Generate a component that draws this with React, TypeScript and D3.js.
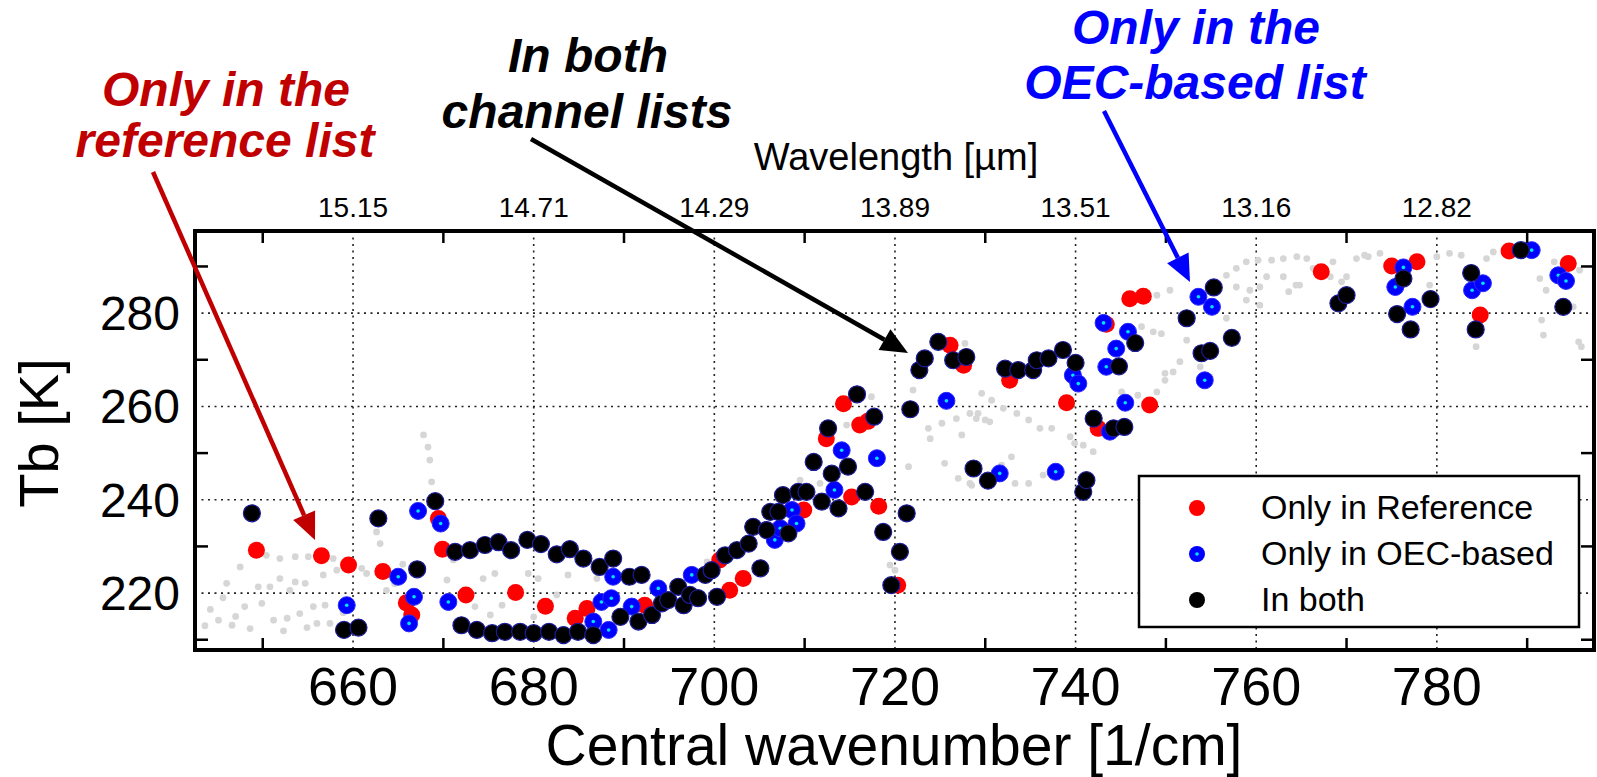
import * as d3 from "d3";

// [central wavenumber (1/cm), Tb (K)]
const refOnly: [number, number][] = [
  [649.3, 229.2], [656.5, 228.0], [659.5, 226.0], [663.3, 224.6], [665.9, 217.9], [666.5, 215.3],
  [669.45, 236.0], [669.9, 229.4], [672.5, 219.6], [678.0, 220.1], [681.3, 217.2], [684.6, 214.6],
  [685.9, 216.7], [692.3, 217.4], [700.6, 227.1], [701.7, 220.6], [703.2, 223.1], [709.9, 237.8],
  [712.4, 253.1], [714.3, 260.6], [715.2, 240.6], [716.1, 256.0], [717.0, 256.8], [718.2, 238.6],
  [720.3, 221.7], [726.1, 273.1], [727.6, 268.85], [732.7, 265.6], [739.0, 260.8], [742.5, 255.3],
  [743.4, 277.6], [746.0, 283.1], [747.5, 283.6], [748.2, 260.3], [767.2, 288.85], [775.0, 290.1],
  [777.8, 291.0], [784.8, 279.6], [788.0, 293.3], [794.55, 290.65],
];

const oecOnly: [number, number][] = [
  [659.3, 217.4], [665.0, 223.5], [666.2, 213.5], [666.75, 219.2], [667.2, 237.6], [669.7, 234.9],
  [670.55, 218.1], [686.6, 213.9], [687.5, 218.1], [688.3, 212.1], [688.6, 218.9], [688.8, 223.5],
  [690.85, 217.1], [693.8, 221.0], [697.5, 223.9], [706.7, 231.4], [707.3, 233.9], [708.6, 237.8],
  [709.1, 234.9], [713.3, 242.1], [714.1, 250.6], [718.0, 248.9], [725.7, 261.2], [731.6, 245.65],
  [737.8, 246.0], [739.7, 266.7], [740.3, 264.9], [743.1, 277.9], [743.4, 268.5], [743.8, 254.6],
  [744.5, 272.4], [745.5, 260.8], [745.8, 276.0], [753.6, 283.5], [754.3, 265.6], [755.1, 281.35],
  [775.4, 285.6], [776.3, 289.8], [777.3, 281.35], [783.9, 284.9], [785.1, 286.4], [790.5, 293.5],
  [793.45, 288.1], [794.3, 286.9],
];

const inBoth: [number, number][] = [
  [648.8, 237.1], [659.0, 212.1], [660.6, 212.6], [662.8, 236.0], [667.1, 225.1], [669.1, 239.7],
  [671.3, 228.85], [672.95, 229.2], [674.6, 230.3], [676.1, 230.9], [677.5, 229.2], [679.3, 231.4],
  [680.8, 230.5], [682.55, 228.3], [684.0, 229.4], [685.5, 227.4], [687.3, 225.6], [688.8, 227.4],
  [690.6, 223.5], [691.95, 223.9],
  [672.0, 213.1], [673.7, 212.1], [675.4, 211.4], [676.8, 211.7], [678.5, 211.7], [680.0, 211.4],
  [681.7, 211.7], [683.3, 211.0], [684.9, 211.7], [686.6, 211.0],
  [689.6, 214.9], [691.6, 213.9], [693.1, 215.3], [694.2, 217.8], [694.9, 218.5], [696.0, 221.35],
  [696.6, 217.4], [697.3, 219.6], [698.2, 218.9], [699.0, 223.9], [699.7, 224.9], [700.3, 219.2],
  [701.2, 228.1], [702.5, 229.2], [703.8, 230.6], [704.3, 234.2], [705.1, 225.3], [705.8, 233.5],
  [706.2, 237.4], [707.1, 237.4], [707.6, 241.0], [708.2, 232.8], [709.3, 241.7], [710.2, 241.7],
  [711.0, 248.1], [711.9, 239.6], [712.6, 255.3], [713.0, 245.6], [713.75, 238.15], [714.8, 247.1],
  [715.8, 262.6], [716.7, 241.7], [717.7, 257.8], [718.7, 233.1], [719.6, 221.7], [720.55, 228.85],
  [721.3, 237.1], [721.7, 259.4], [722.7, 267.8], [723.3, 270.3], [724.8, 273.85], [726.45, 269.9],
  [727.9, 270.6], [728.7, 246.7], [730.3, 244.1], [732.2, 268.1], [733.65, 267.8], [735.3, 267.8],
  [735.7, 269.9], [737.0, 270.3], [738.6, 272.1], [740.0, 269.35], [740.85, 241.7], [741.2, 244.2],
  [742.0, 257.4], [744.2, 255.3], [744.8, 268.6], [745.4, 255.6], [746.6, 273.6], [752.3, 278.9],
  [753.95, 271.4], [754.9, 271.9], [755.3, 285.5], [757.3, 274.7], [769.1, 282.1], [770.0, 283.85],
  [775.6, 279.8], [776.3, 287.4], [777.1, 276.5], [779.3, 283.0], [783.8, 288.6], [784.3, 276.5],
  [789.3, 293.5], [794.0, 281.35],
];

// all channels (light grey background)
const allChannels: [number, number][] = [
  [645.1, 214.2], [646.6, 213.1], [647.5, 225.6], [648.0, 217.1], [646.0, 222.1], [649.5, 221.35],
  [649.9, 217.8], [650.8, 221.35], [651.2, 214.2], [651.9, 223.1], [652.7, 214.6], [653.0, 220.6],
  [653.6, 222.4], [654.1, 215.6], [654.7, 222.1], [655.6, 217.1], [656.0, 213.5], [656.7, 223.9],
  [656.9, 217.4], [657.45, 213.5], [658.2, 224.9], [650.4, 228.1], [651.9, 227.4], [653.6, 227.8],
  [655.05, 227.8], [657.8, 227.4], [644.2, 216.5], [645.6, 219.0], [647.0, 215.0], [648.6, 212.4],
  [652.3, 211.9], [654.9, 212.6], [658.9, 215.8], [643.6, 213.0],
  [660.96, 225.3], [661.5, 224.2], [662.6, 233.1], [663.0, 230.6], [663.7, 220.6], [667.8, 253.9],
  [668.3, 251.3], [668.5, 248.5], [668.7, 243.85], [664.6, 222.0], [665.5, 226.2],
  [670.4, 222.8], [671.1, 227.1], [674.4, 223.1], [675.7, 224.2], [676.5, 217.4], [679.4, 224.2],
  [680.5, 223.1], [680.0, 214.9], [682.55, 219.6], [683.8, 223.9], [673.5, 217.1], [675.2, 215.3],
  [687.0, 223.1], [699.2, 226.7], [709.5, 244.2], [711.7, 243.5], [714.65, 256.0], [717.4, 262.1],
  [721.5, 247.1], [722.0, 263.5], [723.7, 255.3], [723.9, 253.1], [725.5, 247.8], [725.2, 256.4],
  [727.0, 244.6], [726.8, 257.4], [727.4, 253.9], [728.3, 258.5], [728.5, 243.1], [729.0, 257.4],
  [727.75, 273.5], [719.45, 226.0], [720.0, 224.9],
  [729.6, 262.8], [730.7, 261.35], [729.2, 258.5], [730.0, 257.1], [730.5, 256.7], [732.0, 259.6],
  [733.5, 258.5], [734.8, 257.1], [736.05, 255.3], [737.35, 255.3], [739.4, 253.5], [739.9, 252.1],
  [740.85, 251.7], [741.95, 250.3], [732.9, 249.2], [731.8, 247.4], [733.3, 243.5], [734.8, 243.5],
  [736.4, 245.3], [728.3, 243.5],
  [745.1, 263.1], [746.9, 262.4], [749.0, 263.1], [749.9, 267.1], [750.8, 267.4], [751.55, 269.6],
  [752.3, 274.2], [747.3, 277.1], [748.6, 276.0], [749.5, 275.6], [750.45, 284.9], [749.0, 283.85],
  [756.7, 288.1], [757.8, 289.6], [758.9, 291.0], [760.2, 291.35], [761.7, 291.35], [763.0, 291.7],
  [764.5, 292.1], [765.6, 291.7], [757.8, 285.6], [758.9, 282.8], [759.3, 284.9], [760.4, 285.6],
  [761.15, 287.8], [763.0, 287.8], [764.8, 286.0], [766.3, 289.6], [768.5, 291.0], [770.0, 287.8],
  [771.1, 291.7], [772.0, 292.4], [754.9, 266.35], [753.8, 268.5], [749.9, 265.6], [756.7, 278.9],
  [760.4, 281.7],
  [763.6, 284.6], [764.4, 286.0], [768.2, 287.8], [769.45, 286.7], [772.4, 292.1], [773.7, 292.8],
  [779.2, 286.0], [780.0, 292.1], [781.4, 292.8], [782.7, 292.4], [784.35, 272.8], [785.5, 291.7],
  [786.25, 293.1], [791.4, 287.4], [792.1, 284.9], [791.6, 278.5], [791.8, 275.3], [795.1, 281.35],
  [795.7, 273.85], [796.0, 272.8], [793.0, 291.0], [795.8, 289.2],
];

const xLabelTicks = [660, 680, 700, 720, 740, 760, 780];
const wavelengthLabels = ["15.15", "14.71", "14.29", "13.89", "13.51", "13.16", "12.82"];
const xMinorTicks = [650, 670, 690, 710, 730, 750, 770, 790];
const yLabelTicks = [220, 240, 260, 280];
const yMinorTicks = [210, 230, 250, 270, 290];

const legendItems = ["Only in Reference", "Only in OEC-based", "In both"];

const font = "'Liberation Sans', Arial, Helvetica, sans-serif";

function Arrow({ x1, y1, x2, y2, color }) {
  const len = 27;
  const hw = 12;
  const a = Math.atan2(y2 - y1, x2 - x1);
  const bx = x2 - len * Math.cos(a);
  const by = y2 - len * Math.sin(a);
  const px = -Math.sin(a) * hw;
  const py = Math.cos(a) * hw;
  return (
    <g>
      <line x1={x1} y1={y1} x2={bx} y2={by} stroke={color} strokeWidth={4.5} />
      <polygon
        points={`${x2},${y2} ${bx + px},${by + py} ${bx - px},${by - py}`}
        fill={color}
      />
    </g>
  );
}

export default function App() {
  const W = 1597;
  const H = 777;
  const left = 195;
  const right = 1594;
  const top = 231;
  const bottom = 650;

  const x = d3.scaleLinear().domain([642.5, 797.4]).range([left, right]);
  const y = d3.scaleLinear().domain([207.8, 297.6]).range([bottom, top]);

  const r = 8.5;
  const gridStyle = { stroke: "#222", strokeWidth: 1.6, strokeDasharray: "2 4.5" };

  return (
    <svg
      width={W}
      height={H}
      style={{ position: "absolute", left: 0, top: 0, background: "#fff" }}
      fontFamily={font}
    >
      <defs>
        <clipPath id="plot">
          <rect x={left} y={top} width={right - left} height={bottom - top} />
        </clipPath>
      </defs>
      <rect width={W} height={H} fill="#fff" />

      {/* grid */}
      {xLabelTicks.map((t) => (
        <line key={"gx" + t} x1={x(t)} x2={x(t)} y1={top} y2={bottom} style={gridStyle} />
      ))}
      {yLabelTicks.map((t) => (
        <line key={"gy" + t} x1={left} x2={right} y1={y(t)} y2={y(t)} style={gridStyle} />
      ))}

      {/* points */}
      <g clipPath="url(#plot)">
        {allChannels.map((d, i) => (
          <circle key={"a" + i} cx={x(d[0])} cy={y(d[1])} r={3.4} fill="#d6d6d6" />
        ))}
        {refOnly.map((d, i) => (
          <circle key={"r" + i} cx={x(d[0])} cy={y(d[1])} r={r} fill="#ff0000" />
        ))}
        {oecOnly.map((d, i) => (
          <g key={"o" + i}>
            <circle cx={x(d[0])} cy={y(d[1])} r={r} fill="#0000ff" stroke="#2a2aff" strokeWidth={1} />
            <circle cx={x(d[0])} cy={y(d[1])} r={1.8} fill="#00e5ff" />
          </g>
        ))}
        {inBoth.map((d, i) => (
          <circle key={"b" + i} cx={x(d[0])} cy={y(d[1])} r={r} fill="#000" stroke="#1c1c9a" strokeWidth={1.2} />
        ))}
      </g>

      {/* ticks */}
      {xMinorTicks.map((t) => (
        <g key={"tx" + t}>
          <line x1={x(t)} x2={x(t)} y1={bottom} y2={bottom - 12} stroke="#000" strokeWidth={2.5} />
          <line x1={x(t)} x2={x(t)} y1={top} y2={top + 12} stroke="#000" strokeWidth={2.5} />
        </g>
      ))}
      {yMinorTicks.map((t) => (
        <g key={"ty" + t}>
          <line x1={left} x2={left + 13} y1={y(t)} y2={y(t)} stroke="#000" strokeWidth={2.5} />
          <line x1={right} x2={right - 13} y1={y(t)} y2={y(t)} stroke="#000" strokeWidth={2.5} />
        </g>
      ))}

      {/* frame */}
      <rect x={left} y={top} width={right - left} height={bottom - top} fill="none" stroke="#000" strokeWidth={4} />

      {/* legend */}
      <rect x={1139} y={476} width={440} height={151} fill="#fff" stroke="#000" strokeWidth={2.5} />
      {legendItems.map((name, i) => {
        const cy = 508 + i * 46;
        return (
          <g key={name}>
            {i === 0 && <circle cx={1197} cy={cy} r={8} fill="#ff0000" />}
            {i === 1 && (
              <g>
                <circle cx={1197} cy={cy} r={8} fill="#0000ff" />
                <circle cx={1197} cy={cy} r={1.8} fill="#00e5ff" />
              </g>
            )}
            {i === 2 && <circle cx={1197} cy={cy} r={8} fill="#000" />}
            <text x={1261} y={cy + 11} fontSize={34} fill="#000">
              {name}
            </text>
          </g>
        );
      })}

      {/* axis labels */}
      {yLabelTicks.map((t) => (
        <text key={"yl" + t} x={180} y={y(t) + 17} fontSize={48} textAnchor="end">
          {t}
        </text>
      ))}
      {xLabelTicks.map((t) => (
        <text key={"xl" + t} x={x(t)} y={705} fontSize={54} textAnchor="middle">
          {t}
        </text>
      ))}
      {xLabelTicks.map((t, i) => (
        <text key={"wl" + t} x={x(t)} y={217} fontSize={28} textAnchor="middle">
          {wavelengthLabels[i]}
        </text>
      ))}
      <text x={894} y={765} fontSize={57} textAnchor="middle">
        Central wavenumber [1/cm]
      </text>
      <text x={896} y={170} fontSize={38} textAnchor="middle">
        Wavelength [µm]
      </text>
      <text transform="translate(58,433) rotate(-90)" fontSize={56} textAnchor="middle">
        Tb [K]
      </text>

      {/* annotations */}
      <g fontWeight="bold" fontStyle="italic" fontSize={48} textAnchor="middle">
        <text x={226} y={106} fill="#c00000">Only in the</text>
        <text x={225} y={157} fill="#c00000">reference list</text>
        <text x={588} y={72} fill="#000">In both</text>
        <text x={587} y={128} fill="#000">channel lists</text>
        <text x={1196} y={44} fill="#0000ff">Only in the</text>
        <text x={1195} y={99} fill="#0000ff">OEC-based list</text>
      </g>
      <Arrow x1={153} y1={172} x2={315} y2={540} color="#c00000" />
      <Arrow x1={531} y1={139} x2={908} y2={353} color="#000" />
      <Arrow x1={1104} y1={111} x2={1190} y2={282} color="#0000ff" />
    </svg>
  );
}
